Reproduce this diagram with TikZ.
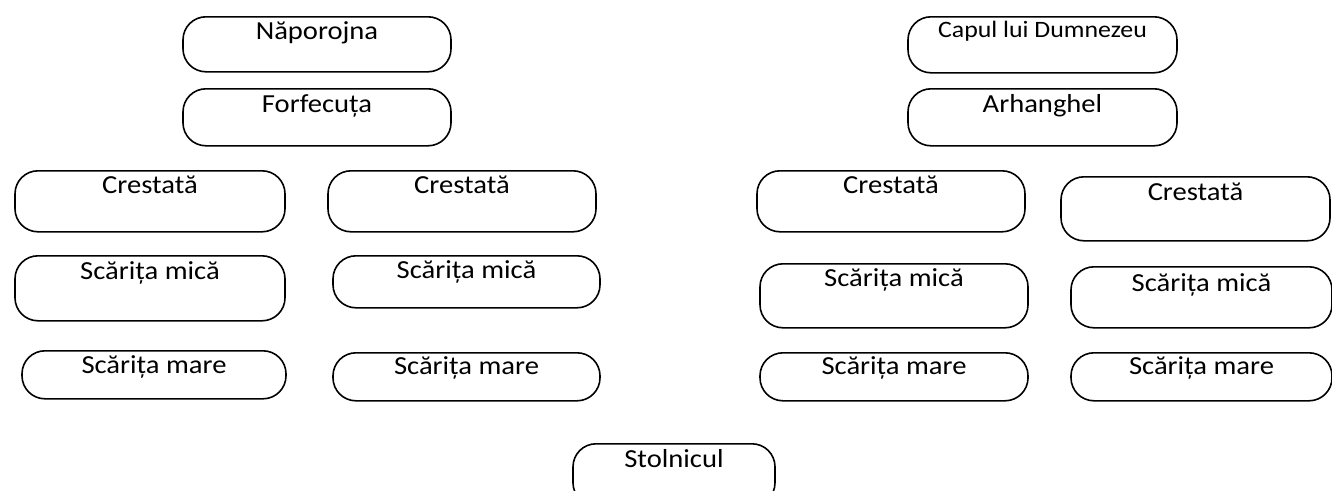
\documentclass[tikz,border=0pt]{standalone}
\usepackage{fontspec}
\setmainfont{Carlito}
\begin{document}
\begin{tikzpicture}[x=1pt,y=-1pt,
  pill/.style={draw=black, line width=1.6pt, rounded corners=23pt,
    inner sep=0pt, anchor=north, transform shape,
    font=\fontsize{26}{28}\selectfont},
  smalltxt/.style={font=\fontsize{23.5}{25}\selectfont}]
\useasboundingbox (0,0) rectangle (1332,490);
% wide pill boxes: the shape and its text are stretched sideways by \pbsx
\def\pbsx{1.1}
% [#1 extra style] #2 name, #3 left, #4 top, #5 right, #6 bottom, #7 baseline, #8 text
\newcommand{\pillbox}[8][]{%
  \pgfmathsetmacro{\pbcx}{(#3+#5)/2}%
  \pgfmathsetmacro{\pbw}{(#5-#3)/\pbsx}%
  \pgfmathsetmacro{\pbh}{#7-#4}%
  \pgfmathsetmacro{\pbd}{#6-#7}%
  \begin{scope}[shift={(\pbcx,#4)}, xscale=\pbsx]
    \node[pill, #1, minimum width=\pbw pt, text height=\pbh pt, text depth=\pbd pt]
      (#2) at (0,0) {#8};
  \end{scope}}
% upper pairs
\pillbox{nap}{183}{16}{451}{71}{39}{Năporojna}
\pillbox{forf}{183}{88}{451}{145}{112}{Forfecuța}
\pillbox[smalltxt]{capul}{908}{16}{1177}{72}{37}{Capul lui Dumnezeu}
\pillbox{arh}{908}{88}{1177}{145}{112}{Arhanghel}
% Crestată row
\pillbox{cr1}{15}{170}{285}{231}{193}{Crestată}
\pillbox{cr2}{328}{170}{596}{231}{193}{Crestată}
\pillbox{cr3}{757}{170}{1025}{231}{193}{Crestată}
\pillbox{cr4}{1061}{176}{1330}{240}{200}{Crestată}
% Scărița mică row
\pillbox{sm1}{15}{255}{285}{320}{279}{Scărița mică}
\pillbox{sm2}{333}{255}{600}{307}{278}{Scărița mică}
\pillbox{sm3}{760}{263}{1028}{327}{286}{Scărița mică}
\pillbox{sm4}{1071}{266}{1332}{327}{291}{Scărița mică}
% Scărița mare row
\pillbox{sM1}{22}{350}{286}{398}{373}{Scărița mare}
\pillbox{sM2}{333}{352}{600}{400}{374}{Scărița mare}
\pillbox{sM3}{760}{352}{1028}{400}{374}{Scărița mare}
\pillbox{sM4}{1071}{352}{1332}{400}{374}{Scărița mare}
% bottom
\pillbox{stol}{573}{443}{775}{505}{467}{Stolnicul}
\end{tikzpicture}
\end{document}
